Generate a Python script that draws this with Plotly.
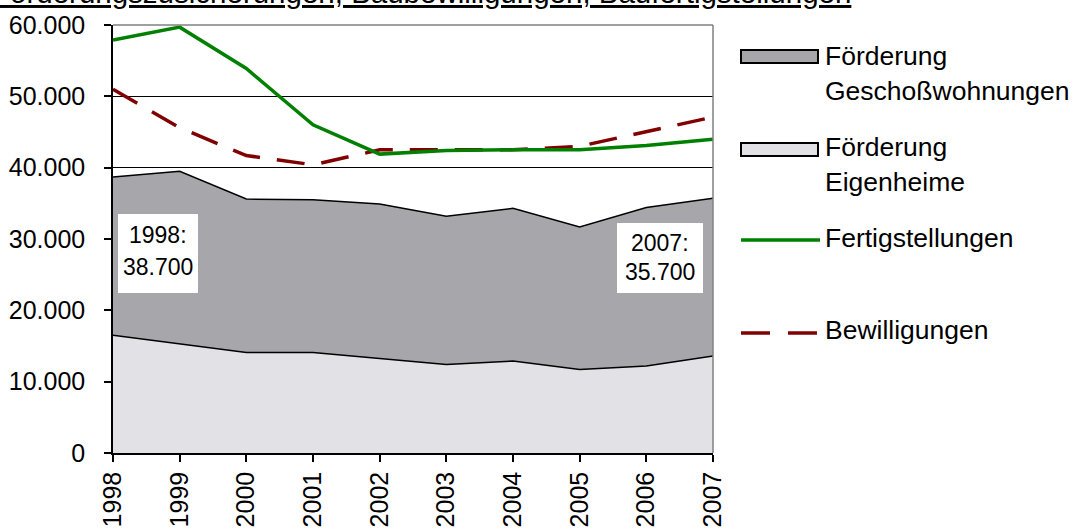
import plotly.graph_objects as go

years = [1998, 1999, 2000, 2001, 2002, 2003, 2004, 2005, 2006, 2007]
eigenheime = [16500, 15300, 14100, 14100, 13300, 12400, 12900, 11700, 12200, 13600]
geschoss = [22200, 24200, 21500, 21400, 21600, 20800, 21400, 20000, 22200, 22100]
fertigstellungen = [57900, 59700, 53900, 46000, 41900, 42400, 42500, 42500, 43100, 44000]
bewilligungen = [51000, 45600, 41700, 40400, 42500, 42500, 42500, 43000, 45100, 47100]

names = ["Förderung Eigenheime", "Förderung Geschoßwohnungen", "Fertigstellungen", "Bewilligungen"]
title_text = "Förderungszusicherungen, Baubewilligungen, Baufertigstellungen"

W, H = 1089, 531
L, R, T, B = 113, 713, 25, 453
FONT = "Liberation Sans, Arial, sans-serif"
DARK = "#a7a7ab"
LIGHT = "#e2e2e6"
GREEN = "#008000"
RED = "#800000"


def px(x):
    return (x - L) / (R - L)


def py(y):
    return (B - y) / (B - T)


def fmt(v):
    return f"{v:,}".replace(",", ".")


fig = go.Figure()
fig.add_trace(go.Scatter(x=years, y=eigenheime, name=names[0], stackgroup="a",
                         mode="lines", line=dict(color="black", width=1.5),
                         fillcolor=LIGHT, showlegend=False))
fig.add_trace(go.Scatter(x=years, y=geschoss, name=names[1], stackgroup="a",
                         mode="lines", line=dict(color="black", width=1.5),
                         fillcolor=DARK, showlegend=False))
fig.add_trace(go.Scatter(x=years, y=bewilligungen, name=names[3], mode="lines",
                         line=dict(color=RED, width=3.5, dash="28px,17px"),
                         showlegend=False))
fig.add_trace(go.Scatter(x=years, y=fertigstellungen, name=names[2], mode="lines",
                         line=dict(color=GREEN, width=3.5), showlegend=False))

totals = [a + b for a, b in zip(eigenheime, geschoss)]

shapes = [
    dict(type="line", xref="paper", yref="paper", x0=0, x1=1, y0=1, y1=1,
         line=dict(color="#808080", width=1.5)),
    dict(type="line", xref="paper", yref="paper", x0=1, x1=1, y0=0, y1=1,
         line=dict(color="#808080", width=1.5)),
    dict(type="rect", xref="paper", yref="paper", x0=px(741), x1=px(818), y0=py(50), y1=py(63),
         fillcolor=DARK, line=dict(color="black", width=2)),
    dict(type="rect", xref="paper", yref="paper", x0=px(741), x1=px(818), y0=py(143), y1=py(156),
         fillcolor=LIGHT, line=dict(color="black", width=2)),
    dict(type="line", xref="paper", yref="paper", x0=px(741), x1=px(820), y0=py(240), y1=py(240),
         line=dict(color=GREEN, width=3.5)),
    dict(type="line", xref="paper", yref="paper", x0=px(741), x1=px(818), y0=py(333), y1=py(333),
         line=dict(color=RED, width=3.5, dash="29px,18px")),
]

annotations = []
leg_lines = [("Förderung", 56), ("Geschoßwohnungen", 91), ("Förderung", 147),
             ("Eigenheime", 182), (names[2], 238), (names[3], 330)]
for txt, yy in leg_lines:
    annotations.append(dict(xref="paper", yref="paper", x=px(823), y=py(yy), text=txt,
                            showarrow=False, xanchor="left", yanchor="middle",
                            font=dict(family=FONT, size=26.5, color="black")))

# title (partly cut off at the top of the picture)
annotations.append(dict(xref="paper", yref="paper", x=px(853), y=py(11),
                        text=f"<u>{title_text}</u>", showarrow=False,
                        xanchor="right", yanchor="bottom",
                        font=dict(family=FONT, size=29.5, color="black")))

boxes = [(0, 118, 198, 214, 293, 235, 267), (9, 617, 703, 223, 293, 243, 272)]
for idx, x0, x1, y0, y1, t1, t2 in boxes:
    shapes.append(dict(type="rect", xref="paper", yref="paper", x0=px(x0), x1=px(x1),
                       y0=py(y1), y1=py(y0), fillcolor="white", line=dict(width=0)))
    cx = px((x0 + x1) / 2)
    annotations.append(dict(xref="paper", yref="paper", x=cx, y=py(t1), text=f"{years[idx]}:",
                            showarrow=False, xanchor="center", yanchor="middle",
                            font=dict(family=FONT, size=23, color="black")))
    annotations.append(dict(xref="paper", yref="paper", x=cx, y=py(t2), text=fmt(totals[idx]),
                            showarrow=False, xanchor="center", yanchor="middle",
                            font=dict(family=FONT, size=23, color="black")))

fig.update_layout(
    width=W, height=H,
    margin=dict(l=L, r=W - R, t=T, b=H - B, pad=0),
    paper_bgcolor="white", plot_bgcolor="white",
    separators=",.",
    font=dict(family=FONT, size=25, color="black"),
    shapes=shapes, annotations=annotations,
    xaxis=dict(range=[years[0], years[-1]], tickmode="array", tickvals=years,
               ticktext=[str(y) for y in years], tickangle=-90,
               showgrid=False, zeroline=False, showline=True, linecolor="black", linewidth=1.5,
               ticks="outside", ticklen=7, tickcolor="black", tickwidth=1.5,
               tickfont=dict(family=FONT, size=25), automargin=False),
    yaxis=dict(range=[0, 60000], dtick=10000, tickformat=",d",
               showgrid=True, gridcolor="black", gridwidth=1, zeroline=False,
               showline=True, linecolor="black", linewidth=1.5,
               ticks="outside", ticklen=7, tickcolor="black", tickwidth=1.5,
               ticklabelstandoff=14,
               tickfont=dict(family=FONT, size=25), automargin=False),
)

fig.write_html("out.html")
